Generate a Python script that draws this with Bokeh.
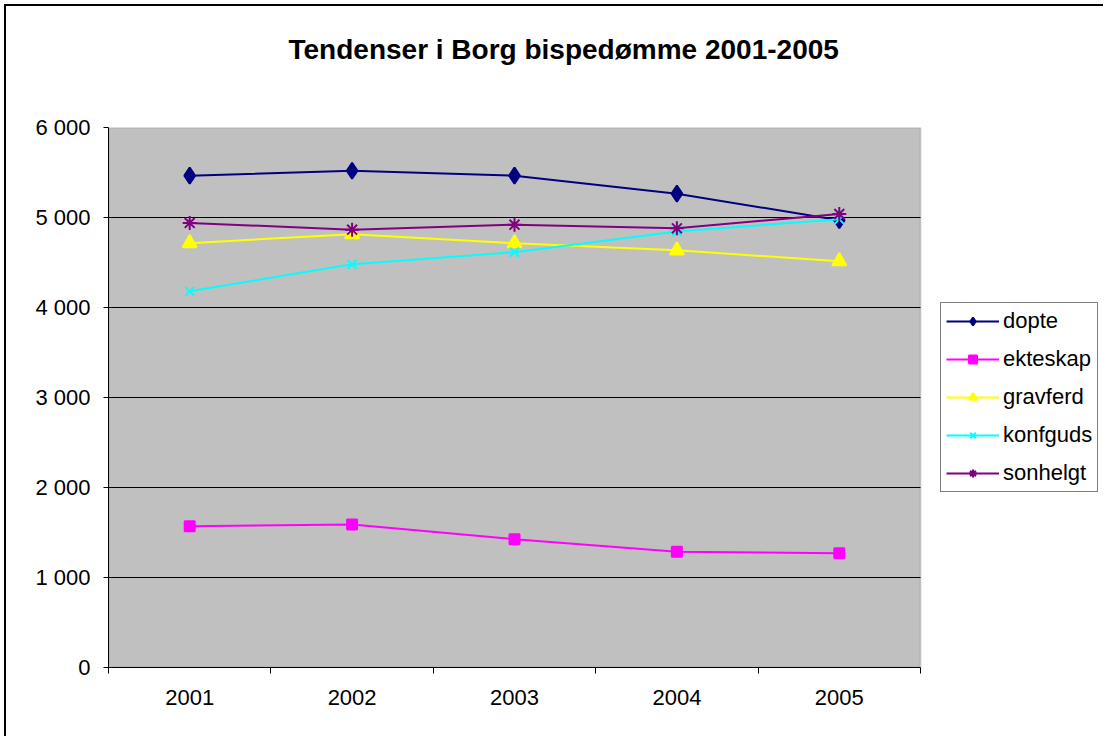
from bokeh.plotting import figure
from bokeh.models import FixedTicker, Legend, LegendItem, Range1d, Title, BoxAnnotation
from bokeh.embed import file_html
from bokeh.resources import INLINE

years = [2001, 2002, 2003, 2004, 2005]
dopte = [5465, 5520, 5465, 5265, 4970]
ekteskap = [1570, 1590, 1425, 1285, 1270]
gravferd = [4715, 4815, 4715, 4635, 4515]
konfguds = [4180, 4480, 4615, 4845, 4980]
sonhelgt = [4940, 4865, 4920, 4880, 5040]

y_ticks = [0, 1000, 2000, 3000, 4000, 5000, 6000]

FONT = "Liberation Sans"

# plot-area geometry (pixels): plot area is 812 px wide; the frame extends 185 px further right
# so that the legend can sit inside the frame (to the right of the grey plot area)
x_lo = years[0] - 0.5
x_hi = years[-1] + 0.5
px_per_unit = 812 / (x_hi - x_lo)
x_end = x_hi + 185 / px_per_unit

p = figure(width=1099, height=732, output_backend="svg", toolbar_location=None,
           x_range=Range1d(x_lo, x_end),
           y_range=Range1d(y_ticks[0], y_ticks[-1]),
           min_border_left=102, min_border_right=0, min_border_top=121, min_border_bottom=71,
           background_fill_color="white", border_fill_color="white")
p.styles = {"border-top": "2px solid black", "border-left": "2px solid black",
            "margin-left": "4px", "margin-top": "4px"}

p.title.text = "Tendenser i Borg bispedømme 2001-2005"
p.title.text_font = FONT
p.title.text_font_size = "28px"
p.title.text_font_style = "bold"
p.title.text_color = "black"
p.title.align = "left"
p.title.offset = 180
p.title.standoff = 50

# spacer between the title and the plot area
spacer = Title(text=" ", text_font_size="10px", standoff=25)
p.add_layout(spacer, "above")

p.outline_line_color = None

# grey plot area with its grey border
area = BoxAnnotation(left=x_lo, right=x_hi, bottom=y_ticks[0], top=y_ticks[-1],
                     fill_color="#C0C0C0", fill_alpha=1, line_color="#808080",
                     line_width=2, level="underlay")
p.add_layout(area)

# horizontal grid lines limited to the plot area
grid_vals = y_ticks[1:-1]
p.segment(x0=[x_lo] * len(grid_vals), x1=[x_hi] * len(grid_vals), y0=grid_vals, y1=grid_vals,
          line_color="black", line_width=1)

# axes
p.xaxis.bounds = (x_lo, x_hi)
p.xaxis.ticker = FixedTicker(ticks=years, minor_ticks=[y - 0.5 for y in years] + [x_hi])
p.xaxis.major_tick_out = 0
p.xaxis.major_tick_in = 0
p.xaxis.minor_tick_out = 6
p.xaxis.minor_tick_in = 0
p.xaxis.minor_tick_line_color = "black"
p.xaxis.major_label_standoff = 16
p.xaxis.major_label_overrides = {y: str(y) for y in years}

p.yaxis.ticker = FixedTicker(ticks=y_ticks, minor_ticks=[])
p.yaxis.major_tick_out = 5
p.yaxis.major_tick_in = 0
p.yaxis.major_label_standoff = 13
p.yaxis.major_label_overrides = {v: f"{v:,}".replace(",", " ") for v in y_ticks}

for ax in (p.xaxis, p.yaxis):
    ax.axis_line_color = "black"
    ax.axis_line_width = 1
    ax.major_tick_line_color = "black"
    ax.major_label_text_font = FONT
    ax.major_label_text_font_size = "22px"
    ax.major_label_text_color = "black"

p.xgrid.grid_line_color = None
p.ygrid.grid_line_color = None

series = [
    ("dopte", dopte, "#000080", "diamond", 16),
    ("ekteskap", ekteskap, "#FF00FF", "square", 10),
    ("gravferd", gravferd, "#FFFF00", "triangle", 14),
    ("konfguds", konfguds, "#00FFFF", "x", 13),
    ("sonhelgt", sonhelgt, "#800080", "asterisk", 14),
]

items = []
for name, vals, color, marker, size in series:
    l = p.line(years, vals, line_color=color, line_width=2)
    s = p.scatter(years, vals, marker=marker, size=size, fill_color=color,
                  line_color=color, line_width=2)
    items.append(LegendItem(label=name, renderers=[l, s]))

legend = Legend(items=items, location=(832, 175), orientation="vertical")
legend.label_text_font = FONT
legend.label_text_font_size = "22px"
legend.label_text_color = "black"
legend.glyph_width = 53
legend.glyph_height = 20
legend.label_height = 20
legend.spacing = 12
legend.label_standoff = 4
legend.padding = 5
legend.margin = 0
legend.border_line_color = "black"
legend.border_line_width = 1
legend.background_fill_color = "white"
legend.background_fill_alpha = 1
p.add_layout(legend, "center")

open("out.html", "w").write(file_html(p, INLINE))
